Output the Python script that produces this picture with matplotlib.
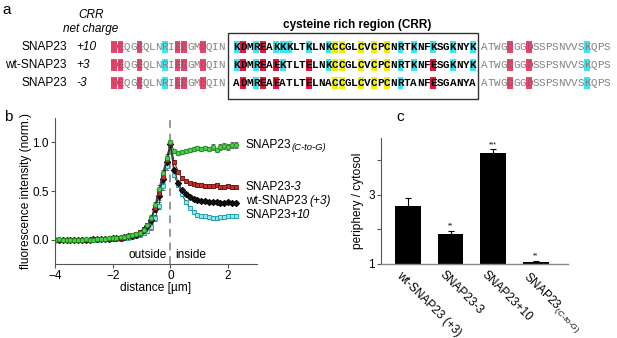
import matplotlib.pyplot as plt
from matplotlib.patches import Rectangle

plt.rcParams['font.family'] = ['Liberation Sans', 'DejaVu Sans']
plt.rcParams['mathtext.fontset'] = 'custom'
plt.rcParams['mathtext.rm'] = 'Liberation Sans'
plt.rcParams['mathtext.it'] = 'Liberation Sans:italic'

# ---- panel a: sequences ----
row_names = ['SNAP23', 'wt-SNAP23', 'SNAP23']
row_charge = ['+10', '+3', '-3']
seq_left = 'DEQGEQLNRIEEGMDQIN'
seq_crr = ['KDMREAKKKLTKLNKCCGLCVCPCNRTKNFKSGKNYK',
           'KDMREAEKTLTELNKCCGLCVCPCNRTKNFESGKNYK',
           'ADMREAEATLTELNACCGLCVCPCNRTANFESGANYA']
seq_right = 'ATWGDGGDSSPSNVVSKQPS'

# ---- panel b: line profiles ----
distance = [-4.00, -3.87, -3.73, -3.60, -3.47, -3.33, -3.20, -3.07, -2.93, -2.80,
            -2.67, -2.53, -2.40, -2.27, -2.13, -2.00, -1.87, -1.73, -1.60, -1.47,
            -1.33, -1.20, -1.07, -0.93, -0.80, -0.67, -0.53, -0.40, -0.27, -0.13,
            0.00, 0.13, 0.27, 0.40, 0.53, 0.67, 0.80, 0.93, 1.07, 1.20,
            1.33, 1.47, 1.60, 1.73, 1.87, 2.00, 2.13, 2.27]
prof_plus10 = [0.00, 0.00, 0.00, 0.00, 0.00, 0.00, 0.00, 0.00, 0.00, 0.00,
               0.00, 0.00, 0.01, 0.01, 0.01, 0.01, 0.01, 0.01, 0.02, 0.02,
               0.03, 0.04, 0.05, 0.07, 0.09, 0.13, 0.22, 0.35, 0.55, 0.76,
               0.97, 0.66, 0.56, 0.47, 0.39, 0.33, 0.28, 0.25, 0.24, 0.24,
               0.23, 0.22, 0.22, 0.23, 0.23, 0.24, 0.24, 0.24]
prof_wt = [0.00, 0.00, 0.00, 0.00, 0.00, 0.00, 0.00, 0.00, 0.00, 0.00,
           0.01, 0.01, 0.01, 0.01, 0.01, 0.02, 0.02, 0.02, 0.03, 0.04,
           0.04, 0.05, 0.07, 0.10, 0.14, 0.20, 0.31, 0.45, 0.62, 0.80,
           0.98, 0.72, 0.58, 0.51, 0.47, 0.44, 0.42, 0.41, 0.40, 0.40,
           0.39, 0.39, 0.39, 0.38, 0.38, 0.39, 0.38, 0.38]
prof_minus3 = [0.00, 0.00, 0.00, 0.00, 0.00, 0.00, 0.00, 0.00, 0.00, 0.00,
               0.01, 0.01, 0.01, 0.01, 0.01, 0.02, 0.02, 0.02, 0.03, 0.04,
               0.05, 0.06, 0.08, 0.11, 0.15, 0.21, 0.33, 0.48, 0.64, 0.82,
               0.99, 0.80, 0.70, 0.63, 0.60, 0.58, 0.57, 0.56, 0.56, 0.55,
               0.55, 0.55, 0.56, 0.54, 0.54, 0.55, 0.54, 0.54]
prof_ctog = [0.00, 0.01, 0.00, 0.00, 0.00, 0.00, 0.00, 0.00, 0.01, 0.00,
             0.00, 0.01, 0.01, 0.01, 0.02, 0.02, 0.02, 0.03, 0.03, 0.04,
             0.05, 0.06, 0.07, 0.10, 0.15, 0.22, 0.36, 0.52, 0.68, 0.84,
             1.00, 0.91, 0.89, 0.90, 0.91, 0.92, 0.93, 0.94, 0.93, 0.94,
             0.93, 0.95, 0.92, 0.95, 0.96, 0.95, 0.97, 0.97]
err_small = [0.005, 0.005, 0.005, 0.005, 0.005, 0.005, 0.005, 0.005, 0.005, 0.005,
             0.005, 0.005, 0.005, 0.005, 0.005, 0.005, 0.005, 0.005, 0.01, 0.01,
             0.01, 0.01, 0.01, 0.02, 0.02, 0.03, 0.03, 0.04, 0.04, 0.04,
             0.02, 0.02, 0.02, 0.02, 0.02, 0.02, 0.02, 0.02, 0.02, 0.02,
             0.02, 0.02, 0.02, 0.02, 0.02, 0.02, 0.02, 0.02]
err_ctog = [0.005, 0.005, 0.005, 0.005, 0.005, 0.005, 0.005, 0.005, 0.005, 0.005,
            0.005, 0.005, 0.005, 0.005, 0.005, 0.005, 0.005, 0.005, 0.01, 0.01,
            0.01, 0.01, 0.01, 0.02, 0.02, 0.03, 0.03, 0.04, 0.04, 0.04,
            0.02, 0.02, 0.02, 0.02, 0.02, 0.02, 0.02, 0.02, 0.02, 0.02,
            0.02, 0.03, 0.02, 0.03, 0.03, 0.03, 0.03, 0.03]

# ---- panel c: bars ----
bar_labels = ['wt-SNAP23 (+3)', 'SNAP23-3', 'SNAP23+10',
              'SNAP23$_{\\mathit{(C\u2010to\u2010G)}}$']
bar_values = [2.69, 1.87, 4.21, 1.06]
bar_errors = [0.21, 0.08, 0.11, 0.03]
bar_stars = ['', '**', '***', '**']

CYAN = '#3ce6ee'
RED_FLANK = '#e6466c'
RED_CRR = '#e0183f'
YELLOW = '#f0f000'

fig = plt.figure(figsize=(6.17, 3.38), dpi=100)
ov = fig.add_axes([0, 0, 1, 1])
ov.set_xlim(0, 617)
ov.set_ylim(338, 0)
ov.axis('off')


def hl_color(ch, flank):
    if ch in 'KR':
        return CYAN
    if ch in 'DE':
        return RED_FLANK if flank else RED_CRR
    if ch == 'C' and not flank:
        return YELLOW
    return None


def draw_seq(seq, x0, pitch, yc, flank):
    for i, ch in enumerate(seq):
        cx = x0 + pitch * (i + 0.5)
        col = hl_color(ch, flank)
        if col is not None:
            ov.add_patch(Rectangle((cx - pitch * 0.45, yc - 5.8), pitch * 0.9, 11.6,
                                   facecolor=col, edgecolor='none'))
        if flank:
            tc = '#a0506a' if ch in 'DE' else '#808080'
            ov.text(cx, yc, ch, ha='center', va='center', family='Liberation Mono',
                    fontsize=7.8, color=tc)
        else:
            ov.text(cx, yc, ch, ha='center', va='center', family='Liberation Mono',
                    fontsize=7.9, fontweight='bold', color='black')


ov.text(7, 10, 'a', fontsize=11, ha='center', va='center')
ov.text(91, 15, 'CRR', fontsize=8.5, style='italic', ha='center', va='center')
ov.text(91, 29, 'net charge', fontsize=8.5, style='italic', ha='center', va='center')
ov.text(357, 25, 'cysteine rich region (CRR)', fontsize=8.5, fontweight='bold',
        ha='center', va='center')
ov.add_patch(Rectangle((228, 33), 250, 66, facecolor='none', edgecolor='#333333', lw=1))

rows_y = [47, 65, 83]
for name, charge, crr, yc in zip(row_names, row_charge, seq_crr, rows_y):
    ov.text(67, yc, name, fontsize=8.6, ha='right', va='center')
    ov.text(76, yc, charge, fontsize=8.6, style='italic', ha='left', va='center')
    draw_seq(seq_left, 111, 6.33, yc, True)
    draw_seq(crr, 233.5, 6.55, yc, False)
    draw_seq(seq_right, 480.7, 6.46, yc, True)

# ---- panel b ----
ax = fig.add_axes([55 / 617, 1 - 264 / 338, 202 / 617, 146 / 338])
ov.text(8, 117, 'b', fontsize=11, ha='center', va='center')

series = [
    (prof_plus10, err_small, 's', '#8fe8ee', '#1aa0aa'),
    (prof_wt, err_small, 'D', '#111111', '#000000'),
    (prof_minus3, err_small, 's', '#c8302a', '#6a1010'),
    (prof_ctog, err_ctog, 'o', '#48d048', '#1a8a1a'),
]
for vals, errs, mk, fc, ec in series:
    ax.errorbar(distance, vals, yerr=errs, fmt='-', color='#333333', lw=0.7,
                marker=mk, markersize=3.3, markerfacecolor=fc, markeredgecolor=ec,
                markeredgewidth=0.6, ecolor='#555555', elinewidth=0.5, capsize=1.3,
                capthick=0.5)

ax.axvline(0, color='#999999', lw=1.4, dashes=(4, 3), zorder=0)
ax.set_xlim(-4, 3)
ax.set_ylim(-0.25, 1.25)
ax.set_xticks([-4, -2, 0, 2])
ax.set_yticks([0.0, 0.5, 1.0])
ax.set_yticklabels(['0.0', '0.5', '1.0'])
ax.tick_params(labelsize=8.5, length=3, width=0.8, color='#555555', pad=1.5)
for s in ['top', 'right']:
    ax.spines[s].set_visible(False)
for s in ['left', 'bottom']:
    ax.spines[s].set_color('#555555')
    ax.spines[s].set_linewidth(0.8)
ax.set_xlabel('distance [µm]', fontsize=8.6, labelpad=0)
ax.set_ylabel('fluorescence intensity (norm.)', fontsize=8.6, labelpad=0)
ax.text(-0.12, -0.16, 'outside', fontsize=8.6, ha='right', va='center')
ax.text(0.17, -0.16, 'inside', fontsize=8.6, ha='left', va='center')

line_labels = [('SNAP23', '(C-to-G)', 0.97, 'sub'),
               ('SNAP23-', '3', 0.54, 'it'),
               ('wt-SNAP23 ', '(+3)', 0.40, 'it'),
               ('SNAP23+', '10', 0.25, 'it')]
for main, tail, yv, kind in line_labels:
    t = ax.text(2.61, yv, main, fontsize=8.6, ha='left', va='center', clip_on=False)
    if kind == 'sub':
        ax.annotate(tail, xy=(1, 0.3), xycoords=t, xytext=(0.3, 0),
                    textcoords='offset points', fontsize=6.8, style='italic',
                    ha='left', va='center', annotation_clip=False)
    else:
        ax.annotate(tail, xy=(1, 0.5), xycoords=t, xytext=(-0.8, 0),
                    textcoords='offset points', fontsize=8.6, style='italic',
                    ha='left', va='center', annotation_clip=False)

# ---- panel c ----
axc = fig.add_axes([381 / 617, 1 - 264 / 338, 187 / 617, 126 / 338])
ov.text(400, 117, 'c', fontsize=11, ha='center', va='center')
xpos = list(range(len(bar_values)))
axc.bar(xpos, bar_values, width=0.6, color='black', zorder=2)
axc.errorbar(xpos, bar_values, yerr=[[0] * len(bar_errors), bar_errors], fmt='none',
             ecolor='black', elinewidth=0.8, capsize=2, capthick=0.8, zorder=3)
for xp, v, e, st in zip(xpos, bar_values, bar_errors, bar_stars):
    if st:
        axc.text(xp, v + e + 0.04, st, fontsize=5, ha='center', va='bottom')
axc.set_xlim(-0.63, 3.75)
axc.set_ylim(1, 4.65)
axc.set_yticks([1, 2, 3, 4])
axc.set_yticklabels(['1', '', '3', ''])
axc.set_xticks([])
axc.tick_params(axis='y', labelsize=8.5, length=3, width=0.8, color='#555555', pad=1.5)
for s in ['top', 'right']:
    axc.spines[s].set_visible(False)
axc.spines['left'].set_color('#555555')
axc.spines['bottom'].set_color('#888888')
axc.spines['left'].set_linewidth(0.8)
axc.spines['bottom'].set_linewidth(1.0)
axc.set_ylabel('periphery / cytosol', fontsize=8.6, labelpad=3)
for xp, lab in zip(xpos, bar_labels):
    axc.text(xp - 0.12, -0.04, lab, fontsize=8.6, rotation=-45, rotation_mode='anchor',
             ha='left', va='top', transform=axc.get_xaxis_transform(), clip_on=False)

fig.savefig('out.png', dpi=100)
